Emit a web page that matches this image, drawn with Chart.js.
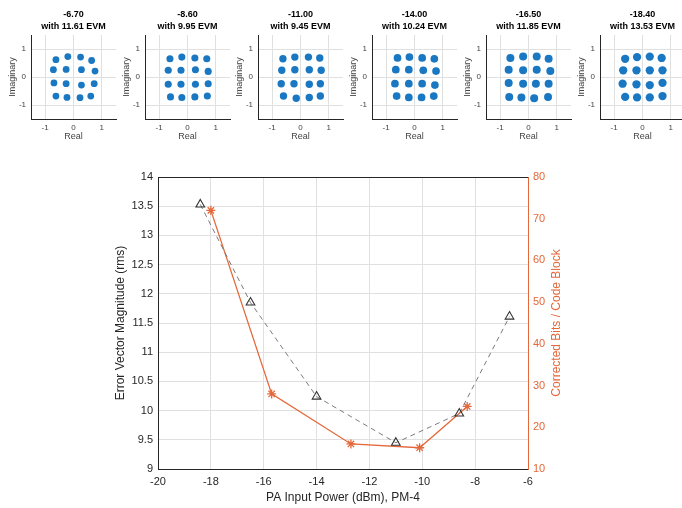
<!DOCTYPE html>
<html>
<head>
<meta charset="utf-8">
<script src="https://cdn.jsdelivr.net/npm/chart.js@4.4.0/dist/chart.umd.min.js"></script>
<style>
  body { margin: 0; background: #fff; }
  #page { position: relative; width: 682px; height: 508px; overflow: hidden; }
  canvas { position: absolute; }
</style>
</head>
<body>
<div id="page">
  <canvas id="main" width="682" height="348" style="left:0;top:160px"></canvas>
</div>
<script>
// Main chart data
const evmPower = [-18.4, -16.5, -14, -11, -8.6, -6.7];
const evmValues = [13.53, 11.85, 10.24, 9.45, 9.95, 11.61];
const bitsPower = [-18.0, -15.7, -12.7, -10.1, -8.3];
const bitsValues = [72, 28, 16, 15.1, 25];

const xTicks = [-20, -18, -16, -14, -12, -10, -8, -6];

// Constellation panels (cluster centres)
const panelPower = ["-6.70", "-8.60", "-11.00", "-14.00", "-16.50", "-18.40"];
const panelEvm = ["11.61", "9.95", "9.45", "10.24", "11.85", "13.53"];

const qam670 = [
  [-0.62, 0.62], [-0.20, 0.73], [0.25, 0.71], [0.64, 0.59],
  [-0.71, 0.26], [-0.26, 0.27], [0.28, 0.26], [0.76, 0.21],
  [-0.69, -0.21], [-0.26, -0.24], [0.28, -0.29], [0.73, -0.24],
  [-0.62, -0.68], [-0.23, -0.73], [0.23, -0.74], [0.61, -0.68]
];
const qam860 = [
  [-0.62, 0.65], [-0.20, 0.71], [0.26, 0.68], [0.68, 0.65],
  [-0.68, 0.24], [-0.23, 0.24], [0.28, 0.26], [0.73, 0.20],
  [-0.68, -0.26], [-0.23, -0.26], [0.28, -0.26], [0.73, -0.24],
  [-0.60, -0.71], [-0.20, -0.73], [0.26, -0.71], [0.70, -0.68]
];
const qam1100 = [
  [-0.62, 0.65], [-0.20, 0.71], [0.28, 0.71], [0.68, 0.68],
  [-0.66, 0.24], [-0.20, 0.26], [0.31, 0.26], [0.73, 0.24],
  [-0.68, -0.24], [-0.23, -0.24], [0.31, -0.26], [0.70, -0.24],
  [-0.60, -0.68], [-0.15, -0.76], [0.31, -0.73], [0.70, -0.68]
];
const qam1400 = [
  [-0.60, 0.68], [-0.18, 0.71], [0.27, 0.68], [0.70, 0.65],
  [-0.66, 0.26], [-0.20, 0.26], [0.31, 0.24], [0.76, 0.21],
  [-0.69, -0.24], [-0.20, -0.24], [0.27, -0.24], [0.72, -0.29],
  [-0.63, -0.68], [-0.20, -0.73], [0.25, -0.73], [0.68, -0.68]
];
const qam1650 = [
  [-0.64, 0.68], [-0.19, 0.73], [0.29, 0.73], [0.71, 0.65],
  [-0.70, 0.26], [-0.19, 0.24], [0.29, 0.26], [0.77, 0.21],
  [-0.70, -0.21], [-0.19, -0.24], [0.26, -0.24], [0.71, -0.24],
  [-0.68, -0.71], [-0.25, -0.73], [0.20, -0.76], [0.69, -0.71]
];
const qam1840 = [
  [-0.61, 0.65], [-0.19, 0.71], [0.26, 0.73], [0.68, 0.68],
  [-0.68, 0.24], [-0.21, 0.24], [0.26, 0.24], [0.71, 0.24],
  [-0.70, -0.24], [-0.21, -0.26], [0.26, -0.29], [0.71, -0.21],
  [-0.61, -0.71], [-0.19, -0.73], [0.26, -0.73], [0.71, -0.68]
];
const panelPoints = [qam670, qam860, qam1100, qam1400, qam1650, qam1840];

const FONT = "'Liberation Sans', Arial, sans-serif";
const TXT = "#262626";
const GRID = "#e0e0e0";
const BLUE = "#1a78c2";
const ORANGE = "#E4683A";

Chart.defaults.font.family = FONT;
Chart.defaults.color = TXT;

const page = document.getElementById("page");
const fixedTicks = vals => s => { s.ticks = vals.map(v => ({ value: v })); };

// two-line bold title centred over the plot area
const tituloPainel = {
  id: "tituloPainel",
  afterDraw(chart, args, opts) {
    const { ctx, chartArea } = chart;
    const cx = (chartArea.left + chartArea.right) / 2;
    ctx.save();
    ctx.fillStyle = "#000";
    ctx.font = "bold 9px " + FONT;
    ctx.textAlign = "center";
    ctx.textBaseline = "middle";
    ctx.fillText(opts.linha1, cx, 15);
    ctx.fillText(opts.linha2, cx, 27);
    ctx.restore();
  }
};

function montarPainel(i) {
  const cv = document.createElement("canvas");
  cv.width = 120;
  cv.height = 150;
  cv.style.left = Math.round(i * 113.7) + "px";
  cv.style.top = "0px";
  page.appendChild(cv);

  new Chart(cv, {
    type: "scatter",
    data: {
      datasets: [{
        data: panelPoints[i].map(p => ({ x: p[0], y: p[1] })),
        backgroundColor: BLUE,
        borderWidth: 0,
        pointRadius: 3.4 + i * 0.15
      }]
    },
    options: {
      responsive: false,
      animation: false,
      layout: { padding: { top: 35, right: 4 } },
      plugins: {
        legend: { display: false },
        tooltip: { enabled: false },
        tituloPainel: { linha1: panelPower[i], linha2: "with " + panelEvm[i] + " EVM" }
      },
      scales: {
        x: {
          type: "linear", min: -1.5, max: 1.5,
          afterBuildTicks: fixedTicks([-1, 0, 1]),
          afterFit: s => { s.height = 31; },
          ticks: { font: { size: 8 }, padding: 4, color: "#444" },
          grid: { color: GRID, drawTicks: false },
          border: { color: TXT },
          title: { display: true, text: "Real", font: { size: 9 }, color: "#444", padding: { top: 0, bottom: 8 } }
        },
        y: {
          type: "linear", min: -1.5, max: 1.5,
          afterBuildTicks: fixedTicks([-1, 0, 1]),
          afterFit: s => { s.width = 31; },
          ticks: { font: { size: 8 }, padding: 5, color: "#444" },
          grid: { color: GRID, drawTicks: false },
          border: { color: TXT },
          title: { display: true, text: "Imaginary", font: { size: 9 }, color: "#444", padding: { top: 7, bottom: 0 } }
        }
      }
    },
    plugins: [tituloPainel]
  });
}

panelPower.forEach((_, i) => montarPainel(i));

// top border + right-axis title (reads bottom to top like the original)
const moldura = {
  id: "moldura",
  afterDraw(chart) {
    const { ctx, chartArea } = chart;
    ctx.save();
    ctx.strokeStyle = TXT;
    ctx.lineWidth = 1;
    ctx.beginPath();
    ctx.moveTo(chartArea.left, chartArea.top + 0.5);
    ctx.lineTo(chartArea.right, chartArea.top + 0.5);
    ctx.stroke();
    ctx.translate(557, (chartArea.top + chartArea.bottom) / 2);
    ctx.rotate(-Math.PI / 2);
    ctx.fillStyle = ORANGE;
    ctx.font = "12px " + FONT;
    ctx.textAlign = "center";
    ctx.textBaseline = "middle";
    ctx.fillText("Corrected Bits / Code Block", 0, 0);
    ctx.restore();
  }
};

new Chart(document.getElementById("main"), {
  type: "line",
  data: {
    datasets: [
      {
        label: "EVM",
        data: evmPower.map((x, i) => ({ x, y: evmValues[i] })),
        yAxisID: "y",
        borderColor: "#7a7a7a",
        borderWidth: 1,
        borderDash: [5, 4],
        pointStyle: "triangle",
        pointRadius: 5,
        pointBorderColor: "#333",
        pointBackgroundColor: "rgba(0,0,0,0)",
        pointBorderWidth: 1.1,
        tension: 0
      },
      {
        label: "Corrected bits",
        data: bitsPower.map((x, i) => ({ x, y: bitsValues[i] })),
        yAxisID: "y1",
        borderColor: ORANGE,
        borderWidth: 1.3,
        pointStyle: "star",
        pointRadius: 4.5,
        pointBorderColor: ORANGE,
        pointBorderWidth: 1.3,
        tension: 0
      }
    ]
  },
  options: {
    responsive: false,
    animation: false,
    layout: { padding: { top: 17 } },
    plugins: { legend: { display: false }, tooltip: { enabled: false } },
    scales: {
      x: {
        type: "linear", min: -20, max: -6,
        afterBuildTicks: fixedTicks(xTicks),
        afterFit: s => { s.height = 39; },
        ticks: { font: { size: 11 }, padding: 6, callback: v => String(v) },
        grid: { color: GRID, drawTicks: false },
        border: { color: TXT },
        title: { display: true, text: "PA Input Power (dBm), PM-4", font: { size: 12 }, padding: { top: 0, bottom: 3 } }
      },
      y: {
        position: "left", min: 9, max: 14,
        ticks: { stepSize: 0.5, font: { size: 11 }, padding: 5, callback: v => String(v) },
        afterFit: s => { s.width = 158; },
        grid: { color: GRID, drawTicks: false },
        border: { color: TXT },
        title: { display: true, text: "Error Vector Magnitude (rms)", font: { size: 12 }, padding: { top: 113, bottom: 0 } }
      },
      y1: {
        position: "right", min: 10, max: 80,
        ticks: { stepSize: 10, font: { size: 11 }, padding: 5, color: ORANGE },
        afterFit: s => { s.width = 154; },
        grid: { drawOnChartArea: false, drawTicks: false },
        border: { color: ORANGE }
      }
    }
  },
  plugins: [moldura]
});
</script>
</body>
</html>
